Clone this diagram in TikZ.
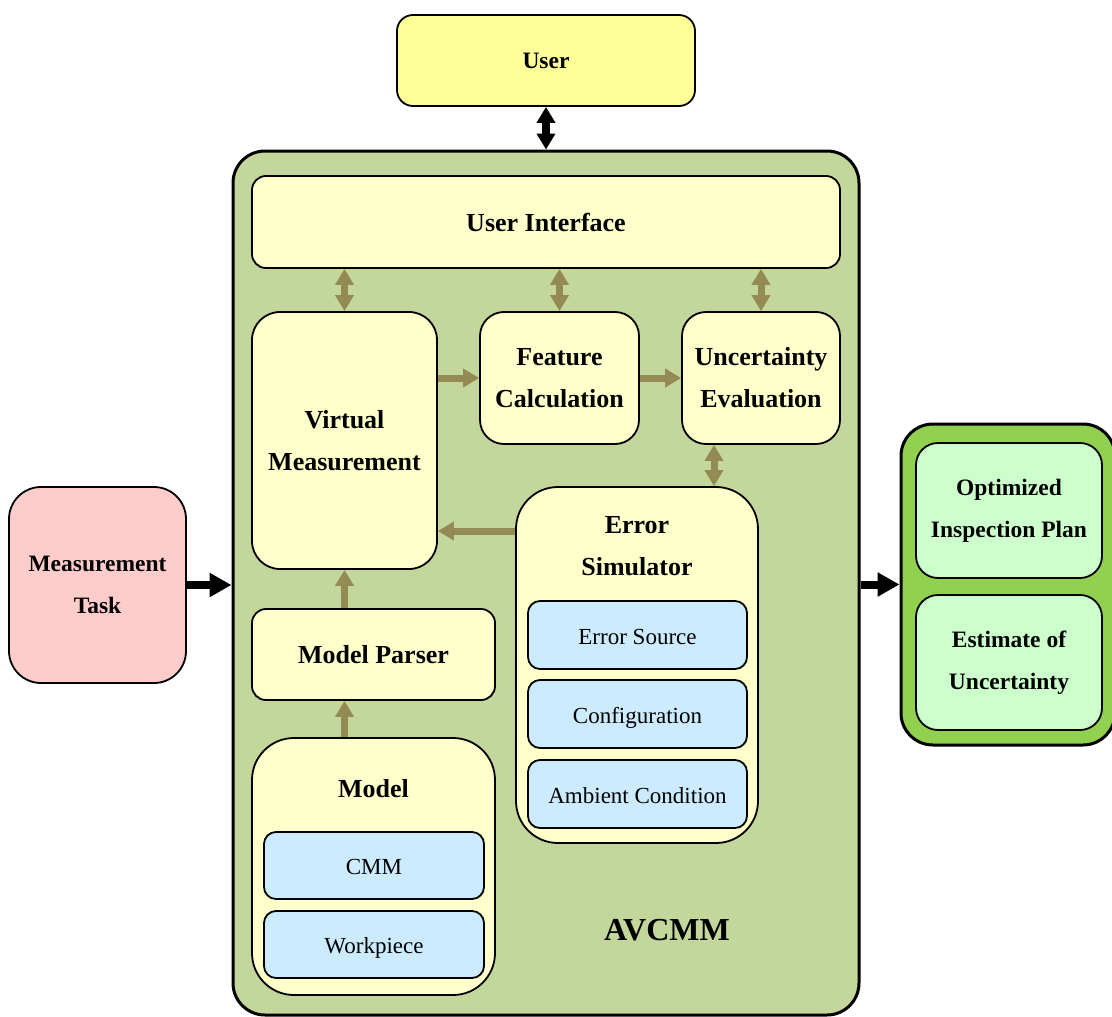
\documentclass[tikz,border=0pt]{standalone}
\usepackage{fontspec}
\setmainfont{Liberation Serif}
\usetikzlibrary{arrows.meta,calc}

\definecolor{userfill}{HTML}{FFFF99}
\definecolor{paleyellow}{HTML}{FFFFCC}
\definecolor{avcmmfill}{HTML}{C3D69B}
\definecolor{taskfill}{HTML}{FFCCCC}
\definecolor{subfill}{HTML}{CCEBFF}
\definecolor{outfill}{HTML}{92D050}
\definecolor{resfill}{HTML}{CCFFCC}
\definecolor{flow}{HTML}{948A54}

\tikzset{
  box/.style={draw=black, line width=1.8pt, rounded corners=#1, inner sep=0pt, align=center},
  box/.default=14pt,
  bigtxt/.style={font=\fontsize{26}{42}\selectfont\bfseries},
  midtxt/.style={font=\fontsize{23.5}{42}\selectfont\bfseries},
  subtxt/.style={font=\fontsize{23}{28}\selectfont, text height=18pt, text depth=0pt},
  inbox/.style={box=14pt, fill=paleyellow, bigtxt},
  subbox/.style={box=12pt, fill=subfill, subtxt, minimum width=219pt, minimum height=68pt},
  resbox/.style={box=22pt, fill=resfill, midtxt, minimum width=186pt, minimum height=135pt},
  flowarrow/.style={draw=flow, line width=7pt, -{Triangle[length=16pt,width=18pt]}},
  flowboth/.style={draw=flow, line width=7pt, {Triangle[length=16pt,width=18pt]}-{Triangle[length=16pt,width=18pt]}},
  blackarrow/.style={draw=black, line width=8pt, -{Triangle[length=22pt,width=23pt]}},
  blackboth/.style={draw=black, line width=8pt, {Triangle[length=16pt,width=18pt]}-{Triangle[length=16pt,width=18pt]}},
}

\begin{document}
\begin{tikzpicture}[x=1pt, y=-1pt]
\useasboundingbox (0,0) rectangle (1112,1017);

% outer containers
\node[box=32pt, line width=3pt, fill=avcmmfill, minimum width=626pt, minimum height=864pt] (avcmm) at (546,583) {};
\node[box=32pt, line width=3pt, fill=outfill, minimum width=214pt, minimum height=321pt] (out) at (1008,584.5) {};

% external blocks
\node[box=16pt, fill=userfill, midtxt, minimum width=298pt, minimum height=91pt] (user) at (546,60.5) {User};
\node[box=32pt, fill=taskfill, midtxt, minimum width=177pt, minimum height=196pt] (task) at (97.5,585) {Measurement\\Task};

% results
\node[resbox] (plan) at (1009,510.5) {Optimized\\Inspection Plan};
\node[resbox] (est) at (1009,662.5) {Estimate of\\Uncertainty};

% inner blocks
\node[inbox, minimum width=588pt, minimum height=92pt] (ui) at (546,222) {User Interface};
\node[box=28pt, fill=paleyellow, bigtxt, minimum width=185pt, minimum height=257pt] (vm) at (344.5,440.5) {Virtual\\Measurement};
\node[box=24pt, fill=paleyellow, bigtxt, minimum width=159pt, minimum height=132pt] (fc) at (559.5,378) {Feature\\Calculation};
\node[box=24pt, fill=paleyellow, bigtxt, minimum width=158pt, minimum height=132pt] (ue) at (761,378) {Uncertainty\\Evaluation};
\node[inbox, minimum width=243pt, minimum height=91pt] (mp) at (373.5,654.5) {Model Parser};

% error simulator with its sources
\node[box=42pt, fill=paleyellow, minimum width=242pt, minimum height=356pt] (es) at (637,665) {};
\node[bigtxt, align=center] (estitle) at (637,546) {Error\\Simulator};
\node[subbox] (src) at (637.5,635) {Error Source};
\node[subbox] (cfg) at (637.5,714) {Configuration};
\node[subbox] (amb) at (637.5,794) {Ambient Condition};

% model with its parts
\node[box=42pt, fill=paleyellow, minimum width=243pt, minimum height=257pt] (model) at (373.5,866.5) {};
\node[bigtxt] (mtitle) at (373.5,789) {Model};
\node[subbox, minimum width=220pt, minimum height=67pt] (cmm) at (374,865.5) {CMM};
\node[subbox, minimum width=220pt, minimum height=67pt] (wp) at (374,944.5) {Workpiece};

\node[font=\fontsize{32}{36}\selectfont\bfseries] (avlabel) at (667,930) {AVCMM};

% black connectors
\draw[blackboth] (user.south) -- (avcmm.north -| user.south);
\draw[blackarrow] (task.east) -- (avcmm.west |- task.east);
\draw[blackarrow] (avcmm.east |- out.west) -- (out.west);

% internal flow
\draw[flowboth] (ui.south -| vm.north) -- (vm.north);
\draw[flowboth] (ui.south -| fc.north) -- (fc.north);
\draw[flowboth] (ui.south -| ue.north) -- (ue.north);
\draw[flowboth] ([xshift=-47pt]ue.south) -- ([xshift=-47pt]ue.south |- es.north);
\draw[flowarrow] (vm.east |- fc.west) -- (fc.west);
\draw[flowarrow] (fc.east) -- (ue.west);
\draw[flowarrow] ([yshift=134pt]es.west) -- ([yshift=134pt]es.west -| vm.east);
\draw[flowarrow] (mp.north -| vm.south) -- (vm.south);
\draw[flowarrow] (model.north -| vm.south) -- (mp.south -| vm.south);
\end{tikzpicture}
\end{document}
